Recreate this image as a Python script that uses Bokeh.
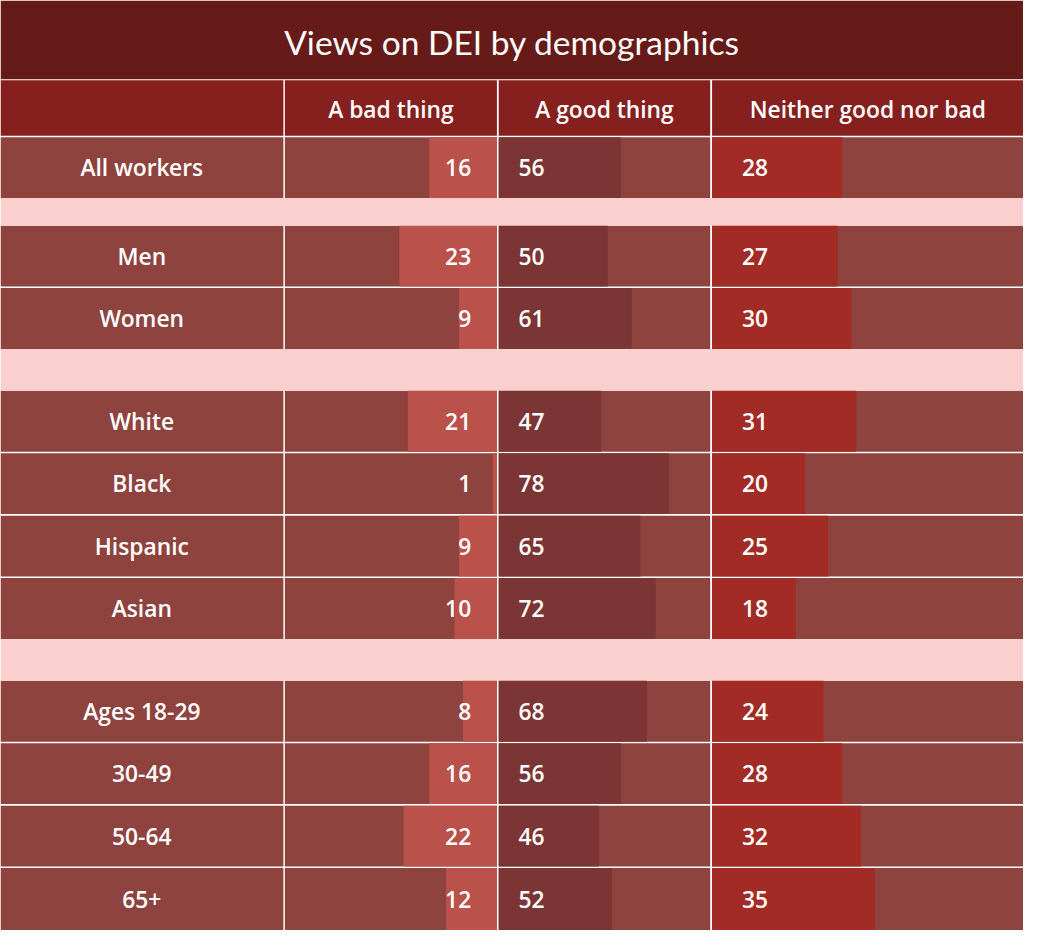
from bokeh.plotting import figure
from bokeh.models import Range1d
from bokeh.embed import file_html
from bokeh.resources import INLINE
from bokeh.core.properties import value

# ---------------- data ----------------
title = "Views on DEI by demographics"
columns = ["A bad thing", "A good thing", "Neither good nor bad"]
categories = ["All workers", "Men", "Women", "White", "Black", "Hispanic", "Asian",
              "Ages 18-29", "30-49", "50-64", "65+"]
group_sizes = [1, 2, 4, 4]
bad = [16, 23, 9, 21, 1, 9, 10, 8, 16, 22, 12]
good = [56, 50, 61, 47, 78, 65, 72, 68, 56, 46, 52]
neither = [28, 27, 30, 31, 20, 25, 18, 24, 28, 32, 35]

# ---------------- layout (reference pixel units) ----------------
W_REF, H_REF = 1039, 946
FIG_W, FIG_H = 1023, 930
TITLE_BOTTOM = 80
HEADER_TOP, HEADER_BOTTOM = 81.2, 137.6
ROWS_TOP = 139
PITCH = 63.5
GAP = 1.6
SPACERS = [26.5, 41, 41]
COLS = [(0, 287.3), (288.8, 504.2), (506.0, 720.8), (722.7, W_REF)]
# value domains spanned by each data column's width
BAD_MAX, GOOD_MAX, NEITHER_MAX = 50, 97, 67

TITLE_BG = "#661B19"
HEADER_BG = "#85201F"
ROW_BG = "#8F433F"
BAD_C = "#BA514B"
GOOD_C = "#7B3535"
NEITHER_C = "#A32B25"
SPACER_C = "#F9D0CD"

FONT = value("Open Sans SemiBold")
FS = "22.8px"

tops, bottoms, spacers = [], [], []
y = ROWS_TOP
for gi, n in enumerate(group_sizes):
    for k in range(n):
        tops.append(y)
        bottoms.append(y + PITCH - GAP)
        y += PITCH
    if gi < len(SPACERS):
        spacers.append((y - GAP, y + SPACERS[gi]))
        y += SPACERS[gi]
bottoms[-1] = H_REF
centers = [(t + b) / 2 for t, b in zip(tops, bottoms)]
heights = [b - t for t, b in zip(tops, bottoms)]

p = figure(width=FIG_W, height=FIG_H, output_backend="svg", toolbar_location=None,
           x_range=Range1d(0, W_REF), y_range=Range1d(H_REF, 0),
           min_border=0, background_fill_color="white", border_fill_color="white",
           outline_line_color=None)
p.axis.visible = False
p.grid.visible = False

# value scales for each data column
def left_anchored(x0, x1, dmax):
    s = (x1 - x0) / dmax
    return Range1d(-x0 / s, (W_REF - x0) / s)

def right_anchored(x0, x1, dmax):
    s = (x1 - x0) / dmax
    return Range1d(x1 / s, (x1 - W_REF) / s)

p.extra_x_ranges = {
    "bad": right_anchored(COLS[1][0], COLS[1][1], BAD_MAX),
    "good": left_anchored(COLS[2][0], COLS[2][1], GOOD_MAX),
    "neither": left_anchored(COLS[3][0], COLS[3][1], NEITHER_MAX),
}

# title band
p.quad(left=[0], right=[W_REF], top=[0], bottom=[TITLE_BOTTOM], fill_color=TITLE_BG, line_color=None)
# header cells
p.quad(left=[c[0] for c in COLS], right=[c[1] for c in COLS],
       top=[HEADER_TOP] * 4, bottom=[HEADER_BOTTOM] * 4, fill_color=HEADER_BG, line_color=None)
# row cells
for c0, c1 in COLS:
    p.quad(left=[c0] * len(tops), right=[c1] * len(tops), top=tops, bottom=bottoms,
           fill_color=ROW_BG, line_color=None)
# spacers
p.quad(left=[0] * len(spacers), right=[W_REF] * len(spacers),
       top=[s[0] for s in spacers], bottom=[s[1] for s in spacers],
       fill_color=SPACER_C, line_color=None)

# bars
p.hbar(y=centers, height=heights, left=0, right=bad, x_range_name="bad",
       fill_color=BAD_C, line_color=None)
p.hbar(y=centers, height=heights, left=0, right=good, x_range_name="good",
       fill_color=GOOD_C, line_color=None)
p.hbar(y=centers, height=heights, left=0, right=neither, x_range_name="neither",
       fill_color=NEITHER_C, line_color=None)

# texts
p.text(x=[W_REF / 2], y=[42], text=[title], text_align="center", text_baseline="middle",
       text_color="white", text_font=value("Lato"), text_font_size="33.5px")
p.text(x=[(c[0] + c[1]) / 2 for c in COLS[1:]], y=[110.5] * 3, text=columns,
       text_align="center", text_baseline="middle", text_color="white",
       text_font=FONT, text_font_size=FS)
p.text(x=[143.5] * len(categories), y=centers, text=categories,
       text_align="center", text_baseline="middle", text_color="white",
       text_font=FONT, text_font_size=FS)
p.text(x=[478] * len(bad), y=centers, text=[str(v) for v in bad],
       text_align="right", text_baseline="middle", text_color="white",
       text_font=FONT, text_font_size=FS)
p.text(x=[526] * len(good), y=centers, text=[str(v) for v in good],
       text_align="left", text_baseline="middle", text_color="white",
       text_font=FONT, text_font_size=FS)
p.text(x=[753] * len(neither), y=centers, text=[str(v) for v in neither],
       text_align="left", text_baseline="middle", text_color="white",
       text_font=FONT, text_font_size=FS)

open("out.html", "w").write(file_html(p, INLINE))
